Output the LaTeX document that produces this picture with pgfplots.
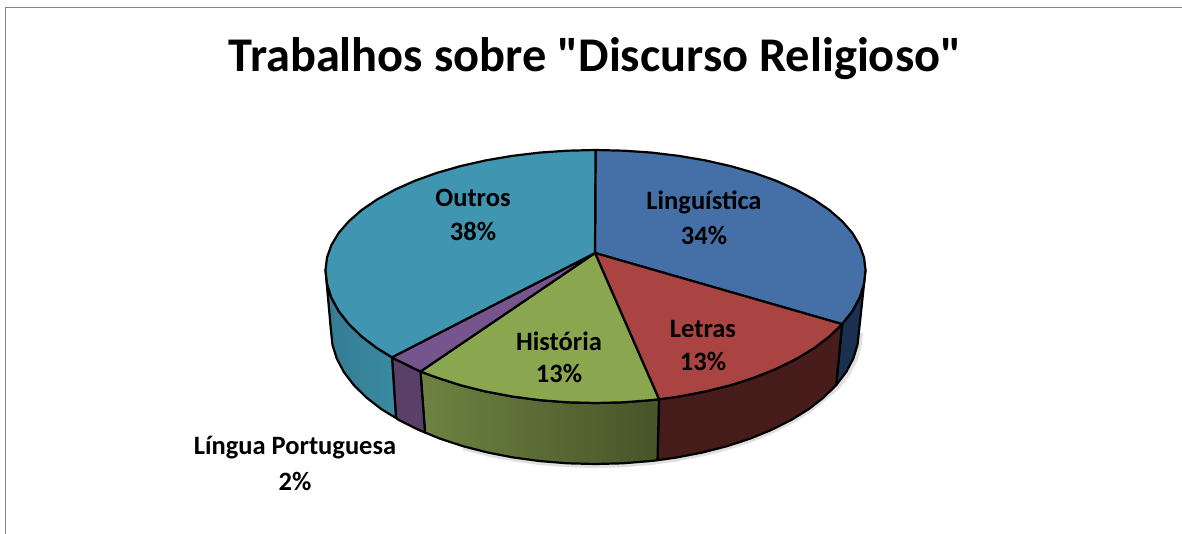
\documentclass[border=0pt]{standalone}
\usepackage{pgfplots}
\pgfplotsset{compat=1.18}
\usepackage{fontspec}
\setmainfont{Carlito}
\newfontfamily\titlefont{Carlito}
\definecolor{tblue}{HTML}{4470A7}
\definecolor{tred}{HTML}{A94442}
\definecolor{tgreen}{HTML}{8AA64E}
\definecolor{tpurple}{HTML}{76558F}
\definecolor{tteal}{HTML}{4095B0}
\definecolor{wblue}{HTML}{1B3050}
\definecolor{wredL}{HTML}{451C1A}
\definecolor{wredR}{HTML}{471C1A}
\definecolor{wgreenL}{HTML}{6E8342}
\definecolor{wgreenR}{HTML}{465428}
\definecolor{wpurple}{HTML}{5A4068}
\definecolor{wtealL}{HTML}{347C92}
\definecolor{wtealR}{HTML}{3A8AA2}
\definecolor{frame}{HTML}{868686}
\tikzset{lab/.style={font=\fontsize{26.5}{26.5}\selectfont\bfseries,anchor=center,text=black}}
\begin{document}
\begin{tikzpicture}
\useasboundingbox (0,0) rectangle (1182pt,534pt);
\begin{axis}[
  scale only axis,width=1182pt,height=534pt,
  xmin=0,xmax=1182,ymin=0,ymax=534,y dir=reverse,
  hide axis,clip=true,
  every axis plot/.append style={line join=round},
]
% frame
\addplot[draw=frame,line width=1.6pt] coordinates {(5.5,534)(5.5,7.5)(1182,7.5)};
% soft shadow under the base
\addplot[draw=black!12,line width=4pt] coordinates {(463,448)(487.6,454.5)(513.4,459.5)(540.1,463.1)(567.4,465.3)(595,466)(622.6,465.3)(649.9,463.1)(676.6,459.5)(702.4,454.5)(727,448.2)(750.2,440.6)(771.6,431.8)(791.2,422)(808.6,411.2)(823.6,399.5)(838.2,387.1)(848.1,374.1)(855.2,360.7)(859.5,346.9)(861,333)};
% walls
\addplot[draw=black,line width=2.2pt,fill=wblue] coordinates {(842.1,324.1)(852.3,311.1)(859.6,297.7)(864,283.9)(865.5,270)(859,331)(857.5,344.9)(853.2,358.7)(846.1,372.1)(836.2,385.1)} --cycle;
\addplot[draw=black,line width=2.2pt,left color=wredL,right color=wredR] coordinates {(842.1,324.1)(829.3,336.5)(813.9,348.2)(796.1,359)(776.2,368.8)(754.2,377.6)(730.5,385.2)(705.3,391.5)(678.9,396.5)(659,399.3)(657.5,460.2)(676.6,457.5)(702.4,452.5)(727,446.2)(750.2,438.6)(771.6,429.8)(791.2,420)(808.6,409.2)(823.6,397.5)(836.2,385.1)} --cycle;
\addplot[draw=black,line width=2.2pt,left color=wgreenL,right color=wgreenR] coordinates {(659,399.3)(651.6,400.1)(623.7,402.3)(595.5,403)(567.3,402.3)(539.4,400.1)(512.1,396.5)(485.7,391.5)(460.5,385.2)(436.8,377.6)(420.5,371.5)(425,432.5)(439.8,438.6)(463,446.2)(487.6,452.5)(513.4,457.5)(540.1,461.1)(567.4,463.3)(595,464)(622.6,463.3)(649.9,461.1)(657.5,460.2)} --cycle;
\addplot[draw=black,line width=2.2pt,fill=wpurple] coordinates {(420.5,371.5)(414.8,368.8)(394.9,359)(392,357.3)(396,418)(398.8,420)(418.4,429.8)(425,432.5)} --cycle;
\addplot[draw=black,line width=2.2pt,left color=wtealL,right color=wtealR] coordinates {(392,357.3)(377.1,348.2)(361.7,336.5)(348.9,324.1)(338.7,311.1)(331.4,297.7)(327,283.9)(325.5,270)(331,331)(332.5,344.9)(336.8,358.7)(343.9,372.1)(353.8,385.1)(366.4,397.5)(381.4,409.2)(396,418)} --cycle;
% top slices
\addplot[draw=black,line width=2.2pt,fill=tblue] coordinates {(595,253)(595.5,150)(623.7,150.7)(651.6,152.6)(678.9,155.9)(705.3,160.4)(730.5,166.1)(754.2,172.9)(776.2,180.8)(796.1,189.7)(813.9,199.5)(829.3,210)(842.1,221.2)(852.3,232.9)(859.6,245.1)(864,257.5)(865.5,270)(864,283.9)(859.6,297.7)(852.3,311.1)(842.1,324.1)} --cycle;
\addplot[draw=black,line width=2.2pt,fill=tred] coordinates {(595,253)(842.1,324.1)(829.3,336.5)(813.9,348.2)(796.1,359)(776.2,368.8)(754.2,377.6)(730.5,385.2)(705.3,391.5)(678.9,396.5)(659,399.3)} --cycle;
\addplot[draw=black,line width=2.2pt,fill=tgreen] coordinates {(595,253)(659,399.3)(651.6,400.1)(623.7,402.3)(595.5,403)(567.3,402.3)(539.4,400.1)(512.1,396.5)(485.7,391.5)(460.5,385.2)(436.8,377.6)(420.5,371.5)} --cycle;
\addplot[draw=black,line width=2.2pt,fill=tpurple] coordinates {(595,253)(420.5,371.5)(414.8,368.8)(394.9,359)(392,357.3)} --cycle;
\addplot[draw=black,line width=2.2pt,fill=tteal] coordinates {(595,253)(392,357.3)(377.1,348.2)(361.7,336.5)(348.9,324.1)(338.7,311.1)(331.4,297.7)(327,283.9)(325.5,270)(327,257.5)(331.4,245.1)(338.7,232.9)(348.9,221.2)(361.7,210)(377.1,199.5)(394.9,189.7)(414.8,180.8)(436.8,172.9)(460.5,166.1)(485.7,160.4)(512.1,155.9)(539.4,152.6)(567.3,150.7)(595.5,150)} --cycle;
% labels
\node[font=\titlefont\fontsize{48.4}{48.4}\selectfont\bfseries,anchor=center] at (axis cs:595,59) {Trabalhos sobre "Discurso Religioso"};
\node[lab] at (axis cs:473,198) {Outros};
\node[lab] at (axis cs:473,231) {38\%};
\node[lab] at (axis cs:704,202) {Linguística};
\node[lab] at (axis cs:704,235) {34\%};
\node[lab] at (axis cs:703,329) {Letras};
\node[lab] at (axis cs:703,361) {13\%};
\node[lab] at (axis cs:559,341) {História};
\node[lab] at (axis cs:559,373) {13\%};
\node[lab] at (axis cs:295,448) {Língua Portuguesa};
\node[lab] at (axis cs:295,481) {2\%};
\end{axis}
\end{tikzpicture}
\end{document}
